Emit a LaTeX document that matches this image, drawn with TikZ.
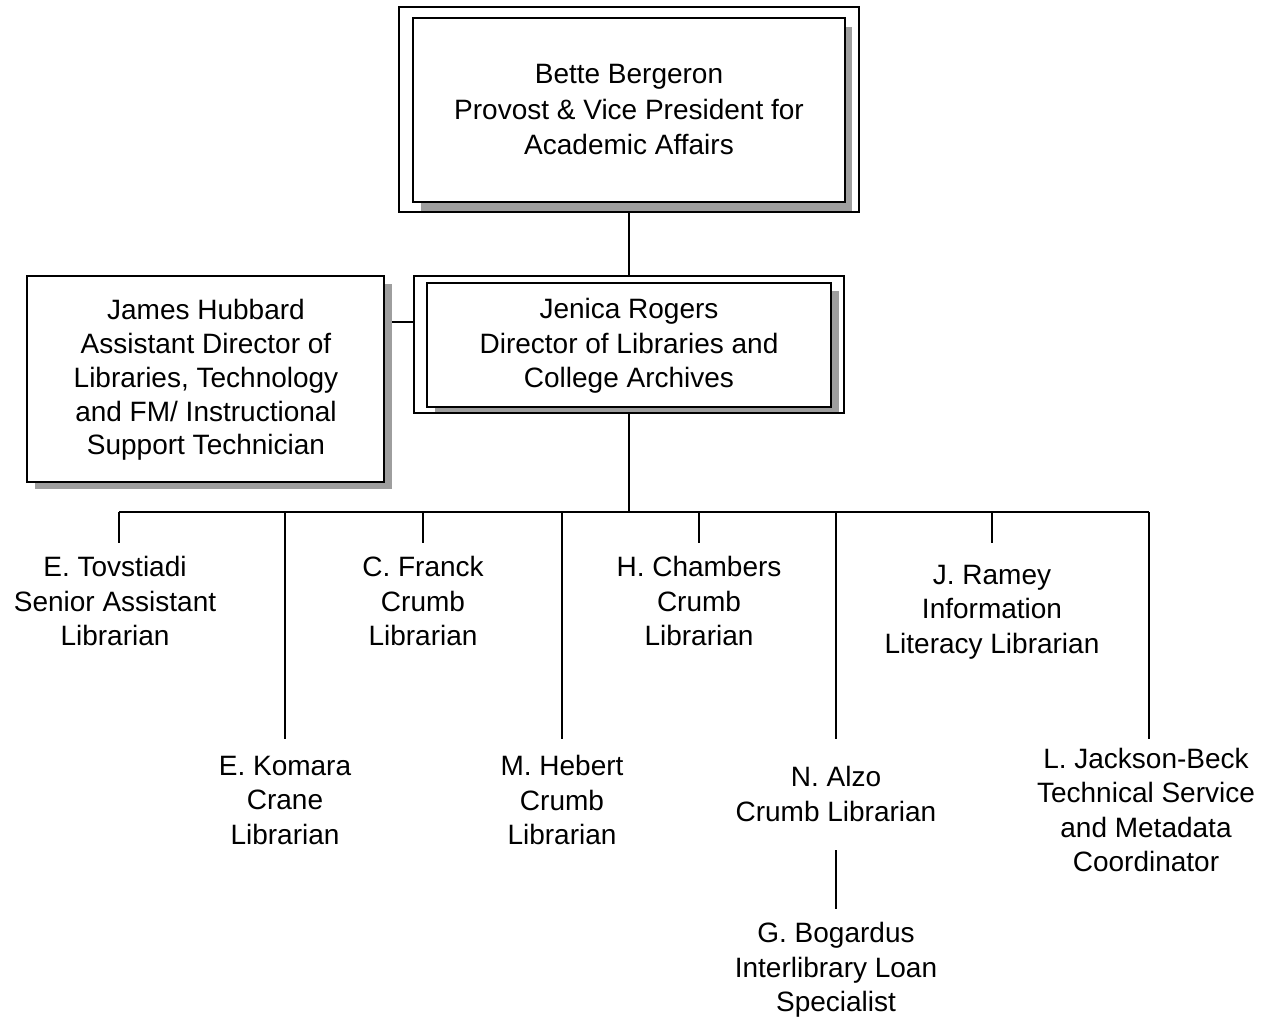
\documentclass[tikz,border=0pt]{standalone}
\usepackage{fontspec}
\setmainfont{Liberation Sans}
\begin{document}
\begin{tikzpicture}[x=1pt,y=-1pt,
  txt/.style={align=center,inner sep=0pt,font=\fontsize{28}{34.5}\selectfont},
  boxline/.style={draw=black,line width=1.4pt,fill=white},
  shadowbox/.style={fill=black!38,draw=none},
  conn/.style={draw=black,line width=1.1pt},
  thick conn/.style={draw=black,line width=2pt}]
\useasboundingbox (0,0) rectangle (1264,1017);
% ---------- top box ----------
\node[boxline,minimum width=460pt,minimum height=205pt,inner sep=0pt] (topouter) at (629,109.5) {};
\fill[shadowbox] (421,27) rectangle (852,211);
\node[boxline,minimum width=432pt,minimum height=184pt,inner sep=0pt] (topinner) at (629,110) {};
\node[txt,font=\fontsize{28}{35.5}\selectfont] (toptext) at (629,110) {Bette Bergeron\\Provost \& Vice President for\\Academic Affairs};
% ---------- Jenica box ----------
\node[boxline,minimum width=430pt,minimum height=137pt,inner sep=0pt] (jenouter) at (629,344.5) {};
\fill[shadowbox] (435,291) rectangle (839,412);
\node[boxline,minimum width=404pt,minimum height=124pt,inner sep=0pt] (jeninner) at (629,345) {};
\node[txt] (jentext) at (629,346) {Jenica Rogers\\Director of Libraries and\\College Archives};
% ---------- James box ----------
\fill[shadowbox] (35,284) rectangle (392,489);
\node[boxline,minimum width=357pt,minimum height=206pt,inner sep=0pt] (james) at (205.5,379) {};
\node[txt,font=\fontsize{28}{33.8}\selectfont] (jamestext) at (206,380) {James Hubbard\\Assistant Director of\\Libraries, Technology\\and FM/ Instructional\\Support Technician};
% ---------- connectors top ----------
\draw[conn] (topouter.south) -- (jenouter.north);
\coordinate (jamesconn) at (392,322);
\draw[conn] (jamesconn) -- (jenouter.west |- jamesconn);
% ---------- bus ----------
\coordinate (busmid) at (629,512);
\coordinate (busL) at (119,512);
\coordinate (busR) at (1149,512);
\draw[thick conn] (jenouter.south) -- (busmid);
\draw[draw=black,line width=1.6pt] (busL) -- (busR);
% ---------- drop lines ----------
\foreach \xx/\nm in {119/dA,423/dC,699/dE,992/dH}{
  \coordinate (\nm top) at (\xx,512);
  \coordinate (\nm bot) at (\xx,543);
  \draw[conn] (\nm top) -- (\nm bot);
}
\foreach \xx/\nm in {285/dB,562/dD,836/dF,1149/dI}{
  \coordinate (\nm top) at (\xx,512);
  \coordinate (\nm bot) at (\xx,739);
  \draw[conn] (\nm top) -- (\nm bot);
}
% ---------- staff texts ----------
\node[txt] (tov) at (115,601) {E. Tovstiadi\\Senior Assistant\\Librarian};
\node[txt] (franck) at (423,601) {C. Franck\\Crumb\\Librarian};
\node[txt] (chambers) at (699,601) {H. Chambers\\Crumb\\Librarian};
\node[txt] (ramey) at (992,612) {J. Ramey\\Information\\Literacy Librarian};
\node[txt] (komara) at (285,800) {E. Komara\\Crane\\Librarian};
\node[txt] (hebert) at (562,800) {M. Hebert\\Crumb\\Librarian};
\node[txt] (alzo) at (836,794) {N. Alzo\\Crumb Librarian};
\node[txt] (jackson) at (1146,810) {L. Jackson-Beck\\Technical Service\\and Metadata\\Coordinator};
\node[txt] (bogardus) at (836,970) {G. Bogardus\\Interlibrary Loan\\Specialist};
% ---------- Alzo to Bogardus ----------
\coordinate (alzodown) at (836,850);
\coordinate (boguptop) at (836,909);
\draw[conn] (alzodown) -- (boguptop);
\end{tikzpicture}
\end{document}
